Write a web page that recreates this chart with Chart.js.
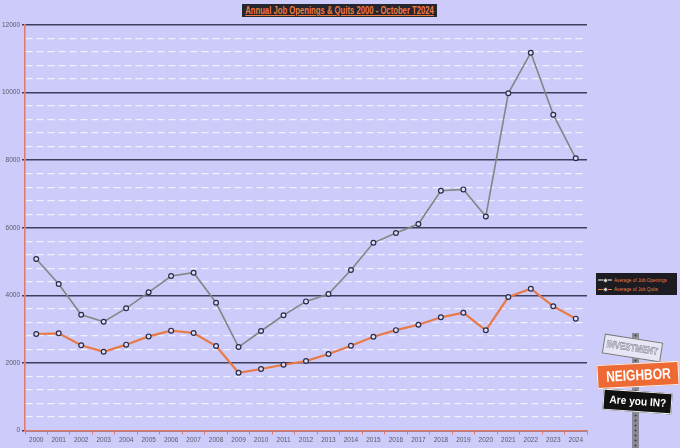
<!DOCTYPE html>
<html>
<head>
<meta charset="utf-8">
<script src="https://cdn.jsdelivr.net/npm/chart.js@4.4.0/dist/chart.umd.min.js"></script>
<style>
  html, body { margin: 0; padding: 0; background: #cccbfa; }
  #wrap { position: relative; width: 680px; height: 448px; overflow: hidden; background: #cccbfa; }
  #c { position: absolute; left: 0; top: 0; }
  .fit { display: inline-block; transform-origin: center center; white-space: nowrap; flex: none; }
  .ctr { display: flex; justify-content: center; align-items: center; }
  #title { position: absolute; left: 242px; top: 4px; width: 195px; height: 13px; background: #262630;
    color: #f07a3e; font: bold 10px "Liberation Sans", Arial, sans-serif; line-height: 13px; }
  #title .fit { transform: scaleX(0.77); text-decoration: underline; }
  #legend { position: absolute; left: 596px; top: 273px; width: 81px; height: 22px; background: #1c1c22;
    font: 5.6px "Liberation Sans", Arial, sans-serif; color: #f07a3e; }
  .li { position: absolute; left: 2px; height: 8px; display: flex; align-items: center; white-space: nowrap; }
  .li .fit { transform: scaleX(0.84); transform-origin: left center; }
  .sym { position: relative; width: 14px; height: 8px; margin-right: 2px; flex: none; }
  .sym .ln { position: absolute; left: 0; right: 0; top: 3.5px; height: 1.5px; }
  .sym .dt { position: absolute; left: 5px; top: 2.2px; width: 3px; height: 3px; border-radius: 50%; background: #ddd; border: 0.5px solid #333; }
  #logo { position: absolute; left: 592px; top: 330px; width: 88px; height: 118px; }
  .pole { position: absolute; left: 40px; top: 3px; width: 7px; height: 120px; background: #8a8a96;
    background-image: radial-gradient(circle, #3c3c48 0.9px, transparent 1.1px); background-size: 7px 5px; }
  .s1 { position: absolute; left: 11px; top: 8px; width: 57px; height: 18px; background: #e6e6f6; border: 1px solid #777;
    transform: rotate(9deg); color: #f4f4ff; font: bold 10px "Liberation Sans", Arial, sans-serif; line-height: 18px;
    -webkit-text-stroke: 0.5px #6a6a7a; }
  .s1 .fit { transform: scaleX(0.8); }
  .s2 { position: absolute; left: 5px; top: 33px; width: 80px; height: 22px; background: #ee6a35; border: 1px solid #f6f6f6;
    transform: rotate(-3deg); color: #fff; font: bold 15px "Liberation Sans", Arial, sans-serif; line-height: 22px; }
  .s2 .fit { transform: scaleX(0.8); }
  .s3 { position: absolute; left: 11px; top: 61px; width: 67px; height: 19px; background: #111; border: 1px solid #eee;
    transform: rotate(4deg); color: #fff; font: bold 11px "Liberation Sans", Arial, sans-serif; line-height: 19px; }
  .s3 .fit { transform: scaleX(0.92); }
</style>
</head>
<body>
<div id="wrap">
  <canvas id="c" width="680" height="448"></canvas>
  <div id="title" class="ctr"><span class="fit">Annual Job Openings &amp; Quits 2000 - October T2024</span></div>
  <div id="legend">
    <div class="li" style="top:2.5px"><div class="sym"><div class="ln" style="background:#8c8c8c"></div><div class="dt"></div></div><span class="fit">Average of Job Openings</span></div>
    <div class="li" style="top:12px"><div class="sym"><div class="ln" style="background:#e97a45"></div><div class="dt"></div></div><span class="fit">Average of Job Quits</span></div>
  </div>
  <div id="logo">
    <div class="pole"></div>
    <div class="s1 ctr"><span class="fit">INVESTMENT</span></div>
    <div class="s2 ctr"><span class="fit">NEIGHBOR</span></div>
    <div class="s3 ctr"><span class="fit">Are you IN?</span></div>
  </div>
</div>
<script>
const years = ["2000","2001","2002","2003","2004","2005","2006","2007","2008","2009","2010","2011","2012",
  "2013","2014","2015","2016","2017","2018","2019","2020","2021","2022","2023","2024"];
const jobOpenings = [5075, 4335, 3425, 3220, 3615, 4090, 4570, 4670, 3780, 2470, 2945, 3410, 3820,
  4040, 4750, 5555, 5845, 6110, 7095, 7135, 6335, 9980, 11180, 9345, 8055];
const jobQuits = [2855, 2875, 2520, 2330, 2540, 2785, 2955, 2885, 2500, 1710, 1820, 1945, 2055,
  2265, 2510, 2775, 2970, 3130, 3350, 3485, 2965, 3950, 4195, 3675, 3310];
const yTickMajor = 2000;
const yTickMinor = 400;

const isMajor = c => c.tick && c.tick.value % yTickMajor === 0;

new Chart(document.getElementById('c'), {
  type: 'line',
  data: {
    labels: years,
    datasets: [
      { label: 'Average of Job Openings', data: jobOpenings, borderColor: '#858585', borderWidth: 1.6,
        pointRadius: 2.4, pointBorderWidth: 1.2, pointBorderColor: '#2c2c44', pointBackgroundColor: '#dcdcff', tension: 0 },
      { label: 'Average of Job Quits', data: jobQuits, borderColor: '#e97a45', borderWidth: 2.2,
        pointRadius: 2.4, pointBorderWidth: 1.2, pointBorderColor: '#2c2c44', pointBackgroundColor: '#dcdcff', tension: 0 }
    ]
  },
  options: {
    responsive: false,
    animation: false,
    layout: { padding: { top: 25, right: 93, left: 0, bottom: 0 } },
    plugins: { legend: { display: false }, tooltip: { enabled: false }, title: { display: false } },
    scales: {
      x: {
        offset: true,
        grid: { offset: true, drawOnChartArea: false, drawTicks: true, tickLength: 4, tickColor: '#e07a6a', tickWidth: 1 },
        border: { display: true, color: '#e07a6a', width: 1.5 },
        ticks: { color: '#5a5a6a', font: { size: 6.5, family: 'Liberation Sans' }, padding: 2, maxRotation: 0, autoSkip: false },
        afterFit: s => { s.height = 17.5; }
      },
      y: {
        min: 0, max: 12000,
        ticks: { stepSize: yTickMinor, autoSkip: false, color: '#5a5a6a', padding: 2,
          font: { size: 6.5, family: 'Liberation Sans' },
          callback: v => (v % yTickMajor === 0 ? String(v) : '') },
        grid: {
          color: c => isMajor(c) ? '#3e3e5e' : '#f0f0ff',
          lineWidth: c => isMajor(c) ? 1.6 : 1.3,
          drawTicks: true, tickLength: 3,
          tickColor: c => isMajor(c) ? '#3e3e5e' : 'rgba(0,0,0,0)'
        },
        border: { display: true, color: '#e07a6a', width: 1.5,
          dash: c => (c && c.tick && c.tick.value % yTickMajor !== 0) ? [7, 4] : [] },
        afterFit: s => { s.width = 25; }
      }
    }
  }
});
</script>
</body>
</html>
